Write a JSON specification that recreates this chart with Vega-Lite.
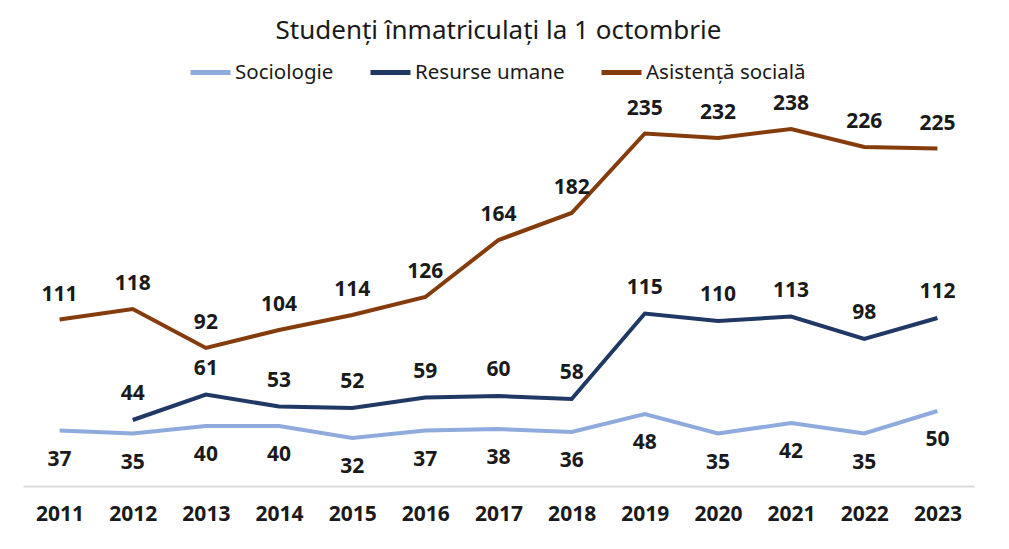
{
"$schema": "https://vega.github.io/schema/vega-lite/v6.json",
"width": 951, "height": 375,
"autosize": {"type": "none"},
"padding": {"left": 23, "top": 111, "right": 35, "bottom": 63},
"config": {"view": {"stroke": null}, "font": "Noto Sans"},
"title": {"text": "Studenți înmatriculați la 1 octombrie", "fontSize": 26, "fontWeight": "normal", "font": "Noto Sans", "color": "#1a1a1a", "anchor": "middle", "offset": 6},
"data": {"values": [
{"year":"2011","series":"Sociologie","value":37},
{"year":"2012","series":"Sociologie","value":35},
{"year":"2013","series":"Sociologie","value":40},
{"year":"2014","series":"Sociologie","value":40},
{"year":"2015","series":"Sociologie","value":32},
{"year":"2016","series":"Sociologie","value":37},
{"year":"2017","series":"Sociologie","value":38},
{"year":"2018","series":"Sociologie","value":36},
{"year":"2019","series":"Sociologie","value":48},
{"year":"2020","series":"Sociologie","value":35},
{"year":"2021","series":"Sociologie","value":42},
{"year":"2022","series":"Sociologie","value":35},
{"year":"2023","series":"Sociologie","value":50},
{"year":"2012","series":"Resurse umane","value":44},
{"year":"2013","series":"Resurse umane","value":61},
{"year":"2014","series":"Resurse umane","value":53},
{"year":"2015","series":"Resurse umane","value":52},
{"year":"2016","series":"Resurse umane","value":59},
{"year":"2017","series":"Resurse umane","value":60},
{"year":"2018","series":"Resurse umane","value":58},
{"year":"2019","series":"Resurse umane","value":115},
{"year":"2020","series":"Resurse umane","value":110},
{"year":"2021","series":"Resurse umane","value":113},
{"year":"2022","series":"Resurse umane","value":98},
{"year":"2023","series":"Resurse umane","value":112},
{"year":"2011","series":"Asistență socială","value":111},
{"year":"2012","series":"Asistență socială","value":118},
{"year":"2013","series":"Asistență socială","value":92},
{"year":"2014","series":"Asistență socială","value":104},
{"year":"2015","series":"Asistență socială","value":114},
{"year":"2016","series":"Asistență socială","value":126},
{"year":"2017","series":"Asistență socială","value":164},
{"year":"2018","series":"Asistență socială","value":182},
{"year":"2019","series":"Asistență socială","value":235},
{"year":"2020","series":"Asistență socială","value":232},
{"year":"2021","series":"Asistență socială","value":238},
{"year":"2022","series":"Asistență socială","value":226},
{"year":"2023","series":"Asistență socială","value":225}
]},
"encoding": {
  "x": {"field": "year", "type": "ordinal", "scale": {"type": "point", "padding": 0.5},
        "axis": {"title": null, "labelAngle": 0, "labelFontSize": 21, "labelFontWeight": "bold", "labelColor": "#1a1a1a", "ticks": false, "domainColor": "#d9d9d9", "domainWidth": 2, "labelPadding": 17, "grid": false}},
  "y": {"field": "value", "type": "quantitative", "scale": {"domain": [0, 250]}, "axis": null}
},
"layer": [
  {"mark": {"type": "line", "strokeWidth": 4},
   "encoding": {"color": {"field": "series", "type": "nominal",
      "scale": {"domain": ["Sociologie", "Resurse umane", "Asistență socială"], "range": ["#8FAADC", "#203864", "#843C0C"]},
      "legend": {"orient": "none", "legendX": 165, "legendY": -61, "direction": "horizontal", "title": null, "symbolType": "stroke", "symbolSize": 1600, "symbolStrokeWidth": 5, "labelFontSize": 20.5, "labelColor": "#1a1a1a", "labelOffset": 2, "columnPadding": 26, "labelFont": "Noto Sans"}}}},
  {"transform": [{"filter": "datum.series === 'Sociologie'"}],
   "mark": {"type": "text", "dy": 29, "fontSize": 21, "fontWeight": "bold", "color": "#1a1a1a"},
   "encoding": {"text": {"field": "value"}}},
  {"transform": [{"filter": "datum.series === 'Resurse umane'"}],
   "mark": {"type": "text", "dy": -26, "fontSize": 21, "fontWeight": "bold", "color": "#1a1a1a"},
   "encoding": {"text": {"field": "value"}}},
  {"transform": [{"filter": "datum.series === 'Asistență socială'"}],
   "mark": {"type": "text", "dy": -25, "fontSize": 21, "fontWeight": "bold", "color": "#1a1a1a"},
   "encoding": {"text": {"field": "value"}}}
]
}
